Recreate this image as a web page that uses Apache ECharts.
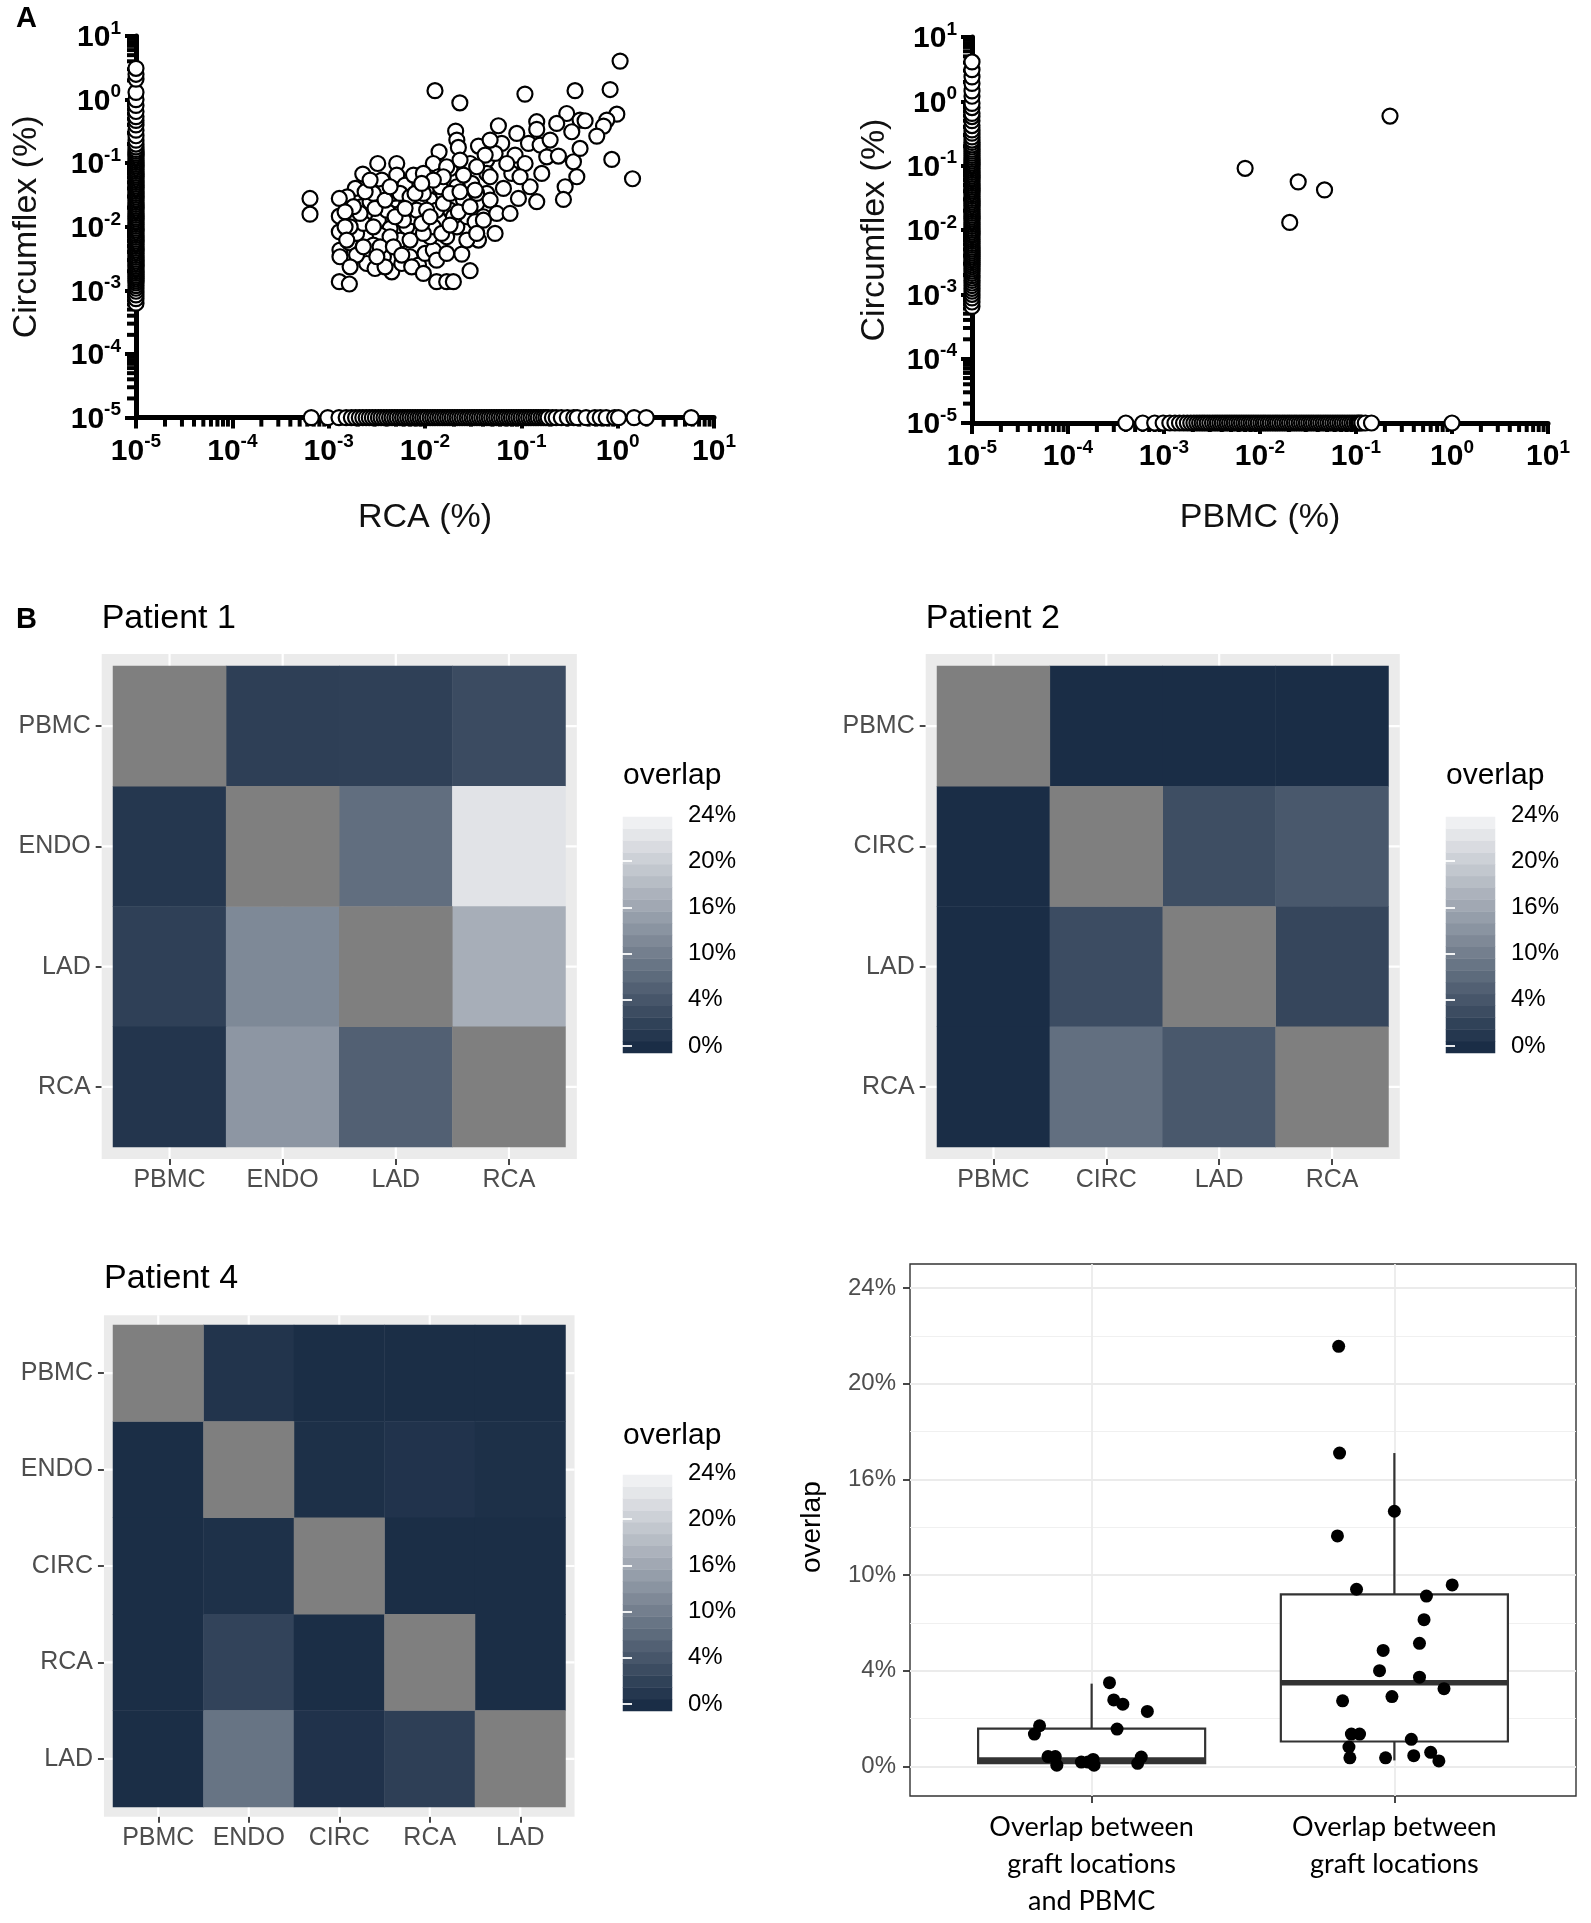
<!DOCTYPE html>
<html><head><meta charset="utf-8">
<script src="https://cdn.jsdelivr.net/npm/echarts@6/dist/echarts.min.js"></script>
<style>html,body{margin:0;padding:0;background:#fff}#c{width:1591px;height:1923px}</style>
</head><body><div id="c"></div><script>
// ---------------- DATA ----------------
// Panel A left: clones found only in Circumflex (RCA = 0, drawn at 1e-5)
const circOnlyVsRca = [6.3e-4,7.4e-4,8.5e-4,9.7e-4,1.08e-3,1.19e-3,1.31e-3,1.41e-3,1.52e-3,1.63e-3,1.74e-3,1.87e-3,1.98e-3,2.12e-3,2.26e-3,2.41e-3,2.56e-3,2.72e-3,2.9e-3,3.1e-3,3.32e-3,3.55e-3,3.8e-3,4.05e-3,4.32e-3,4.6e-3,4.92e-3,5.25e-3,5.6e-3,5.98e-3,6.4e-3,6.85e-3,7.3e-3,7.8e-3,8.35e-3,8.9e-3,9.5e-3,0.0102,0.0109,0.0116,0.0124,0.0133,0.0142,0.0152,0.0162,0.0173,0.0185,0.0198,0.0211,0.0226,0.0241,0.0258,0.0275,0.0294,0.0314,0.0336,0.0359,0.0383,0.041,0.0438,0.0468,0.05,0.0534,0.057,0.061,0.065,0.0695,0.0742,0.0793,0.0847,0.0905,0.0967,0.103,0.11,0.118,0.126,0.135,0.144,0.154,0.165,0.18,0.2,0.23,0.27,0.33,0.4,0.47,0.54,0.65,0.81,1.0,1.3,2.1,2.5,3.1];
// Panel A left: clones found only in RCA (Circumflex = 0, drawn at 1e-5)
const rcaOnly = [6.6e-4,9.8e-4,1.28e-3,1.52e-3,1.72e-3,1.9e-3,2.08e-3,2.26e-3,2.45e-3,2.64e-3,2.84e-3,3.05e-3,3.28e-3,3.5e-3,3.75e-3,4.0e-3,4.28e-3,4.55e-3,4.85e-3,5.15e-3,5.5e-3,5.85e-3,6.2e-3,6.6e-3,7.0e-3,7.45e-3,7.9e-3,8.4e-3,8.9e-3,9.45e-3,0.01,0.0106,0.0113,0.012,0.0127,0.0135,0.0143,0.0152,0.0161,0.0171,0.0181,0.0192,0.0204,0.0216,0.0229,0.0243,0.0258,0.0274,0.029,0.0308,0.0326,0.0346,0.0367,0.0389,0.0413,0.0438,0.0464,0.0492,0.0522,0.0554,0.0587,0.0623,0.066,0.07,0.0743,0.0788,0.0835,0.0886,0.094,0.0997,0.106,0.112,0.119,0.126,0.134,0.142,0.15,0.16,0.17,0.18,0.19,0.21,0.23,0.26,0.3,0.35,0.38,0.47,0.58,0.66,0.76,0.93,1.02,1.48,1.98,5.8];
// Panel A left: shared clones [RCA %, Circumflex %]
const sharedRcaCirc = [[0.0127,1.38],[0.023,0.89],[0.0208,0.32],[0.0214,0.231],[0.0222,0.177],[0.014,0.151],[0.0359,0.186],[0.0122,0.099],[0.0182,0.0828],[0.0294,0.099],[0.0438,0.112],[0.00323,0.099],[0.00509,0.099],[0.00226,0.0674],[0.00189,0.0401],[0.00156,0.0296],[0.00129,0.0279],[0.00064,0.0279],[0.00064,0.0158],[0.00129,0.0147],[0.00129,0.00835],[0.00131,0.0043],[0.00131,0.00338],[0.00129,0.00137],[0.00164,0.00126],[0.00164,0.00561],[0.00195,0.00787],[0.0022,0.0207],[0.00269,0.0247],[0.00356,0.0542],[0.00356,0.0335],[0.00269,0.0144],[0.00229,0.0113],[0.00328,0.0127],[0.00401,0.0183],[0.00509,0.0263],[0.00509,0.065],[0.00621,0.0453],[0.00759,0.065],[0.00962,0.069],[0.0104,0.0401],[0.0113,0.0263],[0.00889,0.0233],[0.00646,0.0233],[0.00551,0.0162],[0.00434,0.00942],[0.00342,0.0074],[0.00291,0.00515],[0.00248,0.00265],[0.00303,0.00221],[0.00452,0.00196],[0.00574,0.00265],[0.007,0.00338],[0.00855,0.0025],[0.01,0.00381],[0.0122,0.0043],[0.0113,0.00697],[0.0082,0.00887],[0.00646,0.01],[0.00551,0.00618],[0.00401,0.00485],[0.0037,0.00338],[0.00195,0.00359],[0.00167,0.00235],[0.0132,0.00137],[0.0168,0.00137],[0.0197,0.00137],[0.0241,0.00372],[0.0294,0.00204],[0.0168,0.00697],[0.0214,0.01],[0.0272,0.0144],[0.0344,0.00787],[0.0359,0.00618],[0.0144,0.0127],[0.0182,0.0183],[0.0251,0.0263],[0.0344,0.0233],[0.0404,0.0144],[0.0438,0.0335],[0.0306,0.0481],[0.0214,0.0426],[0.0155,0.0335],[0.0138,0.0612],[0.0168,0.0879],[0.0251,0.065],[0.0132,0.0183],[0.00962,0.0144],[0.00759,0.0144],[0.0047,0.0335],[0.00291,0.0335],[0.00239,0.0356],[0.0344,0.0335],[0.0438,0.069],[0.0231,0.112],[0.00551,0.0335],[0.007,0.0296],[0.0082,0.0183],[0.00597,0.0127],[0.0122,0.01],[0.0155,0.0233],[0.0197,0.0144],[0.0104,0.0183],[0.00434,0.00697],[0.00342,0.00485],[0.00229,0.00485],[0.00167,0.01],[0.00962,0.0335],[0.0144,0.0426],[0.00291,0.01],[0.007,0.00618],[0.0132,0.00299],[0.00962,0.00787],[0.0168,0.00381],[0.0272,0.00618],
[0.00303,0.0195],[0.00385,0.0263],[0.00489,0.0144],[0.00621,0.0195],[0.00788,0.0335],[0.00925,0.0113],[0.0113,0.0144],[0.0149,0.00787],[0.0182,0.01064],[0.0222,0.0172],[0.0294,0.0207],[0.0331,0.012],[0.0047,0.00485],[0.00574,0.00359],[0.00728,0.00235],[0.00962,0.00185],[0.00385,0.00235],[0.00212,0.0162],[0.00181,0.0207],[0.00148,0.0172],[0.00148,0.01],[0.00154,0.00618],[0.00316,0.00338],[0.0182,0.0335],[0.0231,0.0356],[0.0155,0.0612],[0.0122,0.0542],[0.00925,0.0481],[0.00434,0.0426],[0.00269,0.0542],
[1.06,4.03],[0.109,1.22],[0.361,1.38],[0.835,1.44],[0.98,0.59],[0.771,0.476],[0.713,0.383],[0.296,0.605],[0.407,0.476],[0.459,0.465],[0.233,0.422],[0.334,0.312],[0.1445,0.449],[0.1445,0.34],[0.0578,0.388],[0.0897,0.294],[0.1186,0.205],[0.1567,0.193],[0.0626,0.205],[0.0861,0.134],[0.0534,0.1425],[0.0421,0.134],[0.1836,0.126],[0.2427,0.1294],[0.3475,0.1054],[0.407,0.1706],[0.607,0.2667],[0.869,0.1146],[1.426,0.0569],[0.3767,0.0612],[0.285,0.0426],[0.2735,0.0269],[0.163,0.069],[0.1094,0.099],[0.0796,0.069],[0.1233,0.0426],[0.0933,0.0279],[0.1445,0.0248],[0.0652,0.0401],[0.0474,0.0612],[0.0344,0.0879],[0.0331,0.0378],[0.0474,0.0263],[0.0556,0.0162],[0.0764,0.0162],[0.0404,0.0127],[0.0534,0.00787],[0.0344,0.00787],[0.097,0.0612],[0.0706,0.099],[0.199,0.231],[0.0474,0.231]];
// Panel A right: clones only in Circumflex (PBMC = 0)
const circOnlyVsPbmc = [6.5e-4,7.6e-4,8.8e-4,1.0e-3,1.12e-3,1.24e-3,1.37e-3,1.5e-3,1.64e-3,1.79e-3,1.95e-3,2.12e-3,2.3e-3,2.48e-3,2.68e-3,2.88e-3,3.1e-3,3.33e-3,3.57e-3,3.83e-3,4.1e-3,4.4e-3,4.72e-3,5.05e-3,5.4e-3,5.8e-3,6.2e-3,6.65e-3,7.1e-3,7.6e-3,8.15e-3,8.7e-3,9.3e-3,9.95e-3,0.0106,0.0114,0.0122,0.013,0.0139,0.0149,0.0159,0.017,0.0182,0.0195,0.0208,0.0222,0.0238,0.0254,0.0272,0.029,0.031,0.0332,0.0355,0.0379,0.0405,0.0433,0.0463,0.0495,0.0529,0.0566,0.0605,0.0646,0.069,0.0738,0.0789,0.0843,0.0901,0.0963,0.103,0.11,0.118,0.126,0.135,0.145,0.156,0.168,0.18,0.195,0.21,0.23,0.25,0.28,0.32,0.36,0.42,0.5,0.58,0.65,0.8,0.93,1.2,1.45,1.9,2.4,3.1,4.1];
// Panel A right: clones only in PBMC (Circumflex = 0)
const pbmcOnly = [4.0e-4,6.0e-4,8.0e-4,9.8e-4,1.15e-3,1.3e-3,1.45e-3,1.6e-3,1.75e-3,1.9e-3,2.05e-3,2.2e-3,2.35e-3,2.5e-3,2.65e-3,2.82e-3,3.0e-3,3.2e-3,3.4e-3,3.6e-3,3.82e-3,4.05e-3,4.3e-3,4.55e-3,4.82e-3,5.1e-3,5.4e-3,5.72e-3,6.06e-3,6.42e-3,6.8e-3,7.2e-3,7.63e-3,8.08e-3,8.56e-3,9.07e-3,9.6e-3,0.0102,0.0108,0.0114,0.0121,0.0128,0.0136,0.0144,0.0152,0.0161,0.0171,0.0181,0.0192,0.0203,0.0215,0.0228,0.0241,0.0256,0.0271,0.0287,0.0304,0.0322,0.0341,0.0361,0.0383,0.0405,0.0429,0.0455,0.0482,0.051,0.054,0.0573,0.0607,0.0643,0.0681,0.0721,0.0764,0.081,0.0858,0.0909,0.0963,0.102,0.106,0.11,0.115,0.125,0.145,1.0];
// Panel A right: shared clones [PBMC %, Circumflex %]
const sharedPbmcCirc = [[0.007,0.091],[0.025,0.056],[0.047,0.042],[0.0204,0.0131],[0.226,0.59]];

// Panel B heatmaps: overlap (%) rows x columns, null = same sample
const p1Sites = ['PBMC','ENDO','LAD','RCA'];
const p1Overlap = [
  [null, 1.8, 1.9, 3.0],
  [1.0, null, 7.6, 22.0],
  [1.9, 11.6, null, 16.8],
  [0.8, 13.6, 5.6, null]];
const p2Sites = ['PBMC','CIRC','LAD','RCA'];
const p2Overlap = [
  [null, 0.0, 0.0, 0.0],
  [0.0, null, 3.3, 4.4],
  [0.0, 3.1, null, 2.5],
  [0.0, 7.8, 4.4, null]];
const p4Sites = ['PBMC','ENDO','CIRC','RCA','LAD'];
const p4Overlap = [
  [null, 0.7, 0.05, 0.05, 0.05],
  [0.05, null, 0.27, 0.63, 0.27],
  [0.05, 0.36, null, 0.05, 0.05],
  [0.05, 2.2, 0.05, null, 0.05],
  [0.05, 8.5, 0.54, 1.8, null]];
const overlapTickLabels = ['0%','4%','10%','16%','20%','24%'];
const overlapTickValues = [0, 4, 10, 16, 20, 24];

// Boxplot
const boxGroups = ['Overlap between\ngraft locations\nand PBMC', 'Overlap between\ngraft locations'];
const boxMin = [0.0, 0.25];
const boxQ1 = [0.14, 1.04];
const boxMedian = [0.27, 3.5];
const boxQ3 = [1.58, 8.79];
const boxMax = [3.46, 17.1];
const pbmcPairsX = [0.811,0.828,0.856,0.88,0.885,0.966,0.988,1.005,1.008,1.059,1.073,1.103,1.084,1.184,1.152,1.164];
const pbmcPairsY = [1.35,1.70,0.41,0.41,0.05,0.18,0.18,0.29,0.05,3.50,2.78,2.60,1.56,2.30,0.13,0.39];
const graftPairsX = [1.816,1.819,2.0,1.812,1.875,2.191,2.106,2.098,1.963,2.083,1.951,2.083,2.164,1.992,1.829,1.858,1.885,2.056,1.85,1.853,1.971,2.064,2.12,2.147];
const graftPairsY = [21.56,17.1,14.0,12.45,9.11,9.38,8.68,7.20,5.27,5.72,4.0,3.73,3.25,2.92,2.74,1.35,1.35,1.13,0.81,0.36,0.36,0.45,0.59,0.23];

// ---------------- HELPERS ----------------
const FONT = '"Liberation Sans", Arial, Helvetica, sans-serif';
const NARROW = '"Liberation Sans Narrow", "Liberation Sans", Arial, sans-serif';
const COLOR_MAX = 4.82; // colour scale top, in axis steps
function toStep(p){
  for (let i = 1; i < overlapTickValues.length; i++) {
    if (p <= overlapTickValues[i]) return (i-1) + (p - overlapTickValues[i-1])/(overlapTickValues[i]-overlapTickValues[i-1]);
  }
  return overlapTickValues.length - 1;
}
const grids = [], xAxes = [], yAxes = [], series = [], titles = [], colourSeries = [];
const addGrid = g => (grids.push(g), grids.length-1);
const addX = a => (xAxes.push(a), xAxes.length-1);
const addY = a => (yAxes.push(a), yAxes.length-1);

const minorMult = [2,3,4,5,6,7,8,9];
const minorTicks = [];
for (let d = -5; d < 1; d++) minorMult.forEach(m => minorTicks.push(m * Math.pow(10, d)));

function logLabel(v){ const e = Math.round(Math.log10(v)); return '{b|10}{s|' + e + '}'; }
const logRich = {
  b: {fontSize: 30, fontWeight: 'bold', fontFamily: NARROW, color: '#000', verticalAlign: 'bottom', lineHeight: 34},
  s: {fontSize: 19, fontWeight: 'bold', fontFamily: NARROW, color: '#000', verticalAlign: 'top', lineHeight: 19}
};

function scatterPanel(o){
  const gi = addGrid({left: o.left, top: o.top, width: o.width, height: o.height});
  const common = {
    gridIndex: gi, type: 'log', logBase: 10, min: 1e-5, max: 10,
    nameLocation: 'middle',
    nameTextStyle: {fontSize: 34, fontFamily: FONT, color: '#111'},
    axisLine: {show: true, onZero: false, lineStyle: {color: '#000', width: 5}},
    axisTick: {show: true, length: 11, lineStyle: {color: '#000', width: 4}},
    splitLine: {show: false}
  };
  const xi = addX(Object.assign({}, common, {name: o.xName, nameGap: o.xGap,
    axisLabel: {formatter: logLabel, rich: logRich, margin: 15}}));
  const yi = addY(Object.assign({}, common, {name: 'Circumflex (%)', nameGap: o.yGap,
    axisLabel: {formatter: logLabel, rich: logRich, margin: 15}}));
  series.push({type: 'custom', xAxisIndex: xi, yAxisIndex: yi, silent: true, z: 1,
    data: minorTicks.map(v => [v, 1e-5]),
    renderItem: (p, api) => { const c = api.coord([api.value(0), 1e-5]);
      return {type: 'line', shape: {x1: c[0], y1: c[1], x2: c[0], y2: c[1] + 9}, style: {stroke: '#000', lineWidth: 4}}; }});
  series.push({type: 'custom', xAxisIndex: xi, yAxisIndex: yi, silent: true, z: 1,
    data: minorTicks.map(v => [1e-5, v]),
    renderItem: (p, api) => { const c = api.coord([1e-5, api.value(1)]);
      return {type: 'line', shape: {x1: c[0], y1: c[1], x2: c[0] - 9, y2: c[1]}, style: {stroke: '#000', lineWidth: 4}}; }});
  const pts = [].concat(o.colY.map(v => [1e-5, v]), o.rowX.map(v => [v, 1e-5]), o.shared);
  series.push({type: 'scatter', xAxisIndex: xi, yAxisIndex: yi, data: pts, symbol: 'circle', symbolSize: 15,
    clip: false, silent: true, z: 3, itemStyle: {color: '#fff', borderColor: '#000', borderWidth: 2.2, opacity: 1}});
}

function heatPanel(o){
  const n = o.sites.length, cw = o.width / n, rh = o.height / n;
  const mx = 0.1 * cw, my = 0.1 * rh;
  const bg = addGrid({left: o.left - mx, top: o.top - my, width: o.width + 2*mx, height: o.height + 2*my,
    show: true, backgroundColor: '#ebebeb', borderWidth: 0});
  const bx = addX({gridIndex: bg, type: 'value', min: -0.6, max: n - 0.4, show: false});
  const by = addY({gridIndex: bg, type: 'value', min: -0.6, max: n - 0.4, inverse: true, show: false});
  series.push({type: 'custom', xAxisIndex: bx, yAxisIndex: by, silent: true, z: 1,
    data: o.sites.map((s, i) => [i, i]),
    renderItem: (p, api) => { const k = api.value(0);
      const a = api.coord([k, -0.6]), b = api.coord([k, n - 0.4]), c = api.coord([-0.6, k]), d = api.coord([n - 0.4, k]);
      return {type: 'group', children: [
        {type: 'line', shape: {x1: a[0], y1: a[1], x2: b[0], y2: b[1]}, style: {stroke: '#fff', lineWidth: 2.2}},
        {type: 'line', shape: {x1: c[0], y1: c[1], x2: d[0], y2: d[1]}, style: {stroke: '#fff', lineWidth: 2.2}}]}; }});
  const tg = addGrid({left: o.left, top: o.top, width: o.width, height: o.height});
  const catAxis = {
    gridIndex: tg, type: 'category', data: o.sites,
    axisLine: {show: false},
    axisTick: {show: true, alignWithLabel: true, length: 6, lineStyle: {color: '#333', width: 1.8}},
    axisLabel: {color: '#4d4d4d', fontSize: 25, fontFamily: FONT, interval: 0},
    splitLine: {show: false}
  };
  const tx = addX(Object.assign({}, catAxis, {offset: my, axisLabel: Object.assign({}, catAxis.axisLabel, {margin: 9})}));
  const ty = addY(Object.assign({}, catAxis, {offset: mx, inverse: true, axisLabel: Object.assign({}, catAxis.axisLabel, {margin: 11})}));
  const vals = [], diag = [];
  o.matrix.forEach((row, r) => row.forEach((v, c) => {
    if (v === null) diag.push([c, r, 0]); else vals.push([c, r, toStep(v)]);
  }));
  colourSeries.push(series.length);
  series.push({type: 'heatmap', xAxisIndex: tx, yAxisIndex: ty, data: vals, silent: true, z: 2, emphasis: {disabled: true}});
  series.push({type: 'heatmap', xAxisIndex: tx, yAxisIndex: ty, data: diag, silent: true, z: 2,
    itemStyle: {color: '#7f7f7f'}, emphasis: {disabled: true}});
  titles.push({text: o.title, left: o.left - mx, top: o.titleTop, padding: 0,
    textStyle: {fontSize: 34, fontWeight: 'normal', fontFamily: FONT, color: '#000'}});
  const L = o.legend;
  titles.push({text: 'overlap', left: L.left, top: L.titleTop, padding: 0,
    textStyle: {fontSize: 30, fontWeight: 'normal', fontFamily: FONT, color: '#000'}});
  const nb = 20;
  const bins = [];
  for (let i = 0; i < nb; i++) bins.push(i * COLOR_MAX / (nb - 1));
  const lg = addGrid({left: L.left, top: L.barTop, width: 49, height: L.barH});
  const lx = addX({gridIndex: lg, type: 'category', data: ['bar'], show: false});
  const ly = addY({gridIndex: lg, type: 'category', data: bins.map((b, i) => i), show: false});
  colourSeries.push(series.length);
  series.push({type: 'heatmap', xAxisIndex: lx, yAxisIndex: ly, data: bins.map((t, i) => [0, i, t]), silent: true, z: 2, emphasis: {disabled: true}});
  const lg2 = addGrid({left: L.left, top: L.lblTop, width: 49, height: L.lblH});
  addX({gridIndex: lg2, type: 'value', min: 0, max: 1, show: false});
  const tickStyle = {show: true, inside: true, length: 9, lineStyle: {color: '#fff', width: 1.8}};
  addY({gridIndex: lg2, type: 'value', position: 'right', min: 0, max: 5, interval: 1, z: 10,
    axisLine: {show: false}, axisTick: tickStyle, splitLine: {show: false},
    axisLabel: {formatter: v => overlapTickLabels[Math.round(v)], fontSize: 24, fontFamily: FONT, color: '#000', margin: 16}});
  addY({gridIndex: lg2, type: 'value', position: 'left', min: 0, max: 5, interval: 1, z: 10,
    axisLine: {show: false}, axisTick: tickStyle, splitLine: {show: false}, axisLabel: {show: false}});
}

// ---------------- BUILD ----------------
scatterPanel({left: 136, top: 36, width: 578, height: 381.6, xName: 'RCA (%)', xGap: 83, yGap: 92,
  colY: circOnlyVsRca, rowX: rcaOnly, shared: sharedRcaCirc});
scatterPanel({left: 972, top: 37, width: 576, height: 386, xName: 'PBMC (%)', xGap: 78, yGap: 80,
  colY: circOnlyVsPbmc, rowX: pbmcOnly, shared: sharedPbmcCirc});

heatPanel({sites: p1Sites, matrix: p1Overlap, left: 113, top: 666, width: 452.5, height: 481, title: 'Patient 1', titleTop: 602,
  legend: {left: 623, titleTop: 761, barTop: 817, barH: 236, lblTop: 815, lblH: 231}});
heatPanel({sites: p2Sites, matrix: p2Overlap, left: 937, top: 666, width: 451.5, height: 481, title: 'Patient 2', titleTop: 602,
  legend: {left: 1446, titleTop: 761, barTop: 817, barH: 236, lblTop: 815, lblH: 231}});
heatPanel({sites: p4Sites, matrix: p4Overlap, left: 113, top: 1325, width: 452.5, height: 482, title: 'Patient 4', titleTop: 1262,
  legend: {left: 623, titleTop: 1421, barTop: 1475, barH: 236, lblTop: 1473, lblH: 231}});

// Boxplot
const boxCats = ['', '', '', boxGroups[0], '', '', '', '', boxGroups[1], '', '', ''];
const showCat = (i, v) => v !== '';
const bbg = addGrid({left: 910, top: 1264, width: 666, height: 532, show: true, borderColor: '#333', borderWidth: 1.4, backgroundColor: 'transparent'});
addX({gridIndex: bbg, type: 'category', data: boxCats, boundaryGap: false,
  axisLine: {show: false},
  axisTick: {show: true, interval: showCat, length: 7, lineStyle: {color: '#333', width: 1.8}},
  axisLabel: {interval: showCat, fontFamily: 'Lato, "Open Sans", sans-serif', fontSize: 27, lineHeight: 37, color: '#000', margin: 13},
  splitLine: {show: true, interval: showCat, lineStyle: {color: '#ebebeb', width: 1.8}}});
addY({gridIndex: bbg, type: 'value', min: 0, max: 1, show: false});
const bpg = addGrid({left: 910, top: 1288, width: 666, height: 478.4});
const bpx = addX({gridIndex: bpg, type: 'value', min: 0.4, max: 2.6, show: false});
const bpy = addY({gridIndex: bpg, type: 'value', min: 0, max: 5, interval: 1,
  name: 'overlap', nameLocation: 'middle', nameGap: 84,
  nameTextStyle: {fontSize: 28, fontFamily: FONT, color: '#000'},
  axisLine: {show: false},
  axisTick: {show: true, length: 7, lineStyle: {color: '#333', width: 1.8}},
  axisLabel: {formatter: v => overlapTickLabels[Math.round(v)], fontSize: 24, fontFamily: FONT, color: '#4d4d4d', margin: 14},
  splitLine: {show: true, lineStyle: {color: '#ebebeb', width: 1.8}},
  minorTick: {show: false, splitNumber: 2},
  minorSplitLine: {show: true, lineStyle: {color: '#f0f0f0', width: 1}}});
series.push({type: 'custom', xAxisIndex: bpx, yAxisIndex: bpy, silent: true, z: 3,
  data: boxGroups.map((g, i) => [i + 1, toStep(boxMin[i]), toStep(boxQ1[i]), toStep(boxMedian[i]), toStep(boxQ3[i]), toStep(boxMax[i])]),
  renderItem: (p, api) => {
    const x = api.value(0), w = 0.375;
    const pMin = api.coord([x, api.value(1)]), pQ1 = api.coord([x, api.value(2)]), pMed = api.coord([x, api.value(3)]),
          pQ3 = api.coord([x, api.value(4)]), pMax = api.coord([x, api.value(5)]);
    const l = api.coord([x - w, 0])[0], r = api.coord([x + w, 0])[0];
    const st = {stroke: '#333', lineWidth: 2.2};
    return {type: 'group', children: [
      {type: 'line', shape: {x1: pMin[0], y1: pMin[1], x2: pQ1[0], y2: pQ1[1]}, style: st},
      {type: 'line', shape: {x1: pQ3[0], y1: pQ3[1], x2: pMax[0], y2: pMax[1]}, style: st},
      {type: 'rect', shape: {x: l, y: pQ3[1], width: r - l, height: pQ1[1] - pQ3[1]}, style: {fill: '#fff', stroke: '#333', lineWidth: 2.2}},
      {type: 'line', shape: {x1: l, y1: pMed[1], x2: r, y2: pMed[1]}, style: {stroke: '#333', lineWidth: 5.5}}]};
  }});
series.push({type: 'scatter', xAxisIndex: bpx, yAxisIndex: bpy, silent: true, z: 4, clip: false, symbolSize: 13,
  itemStyle: {color: '#000', opacity: 1}, data: pbmcPairsX.map((x, i) => [x, toStep(pbmcPairsY[i])])});
series.push({type: 'scatter', xAxisIndex: bpx, yAxisIndex: bpy, silent: true, z: 4, clip: false, symbolSize: 13,
  itemStyle: {color: '#000', opacity: 1}, data: graftPairsX.map((x, i) => [x, toStep(graftPairsY[i])])});

titles.push({text: 'A', left: 16, top: 4, padding: 0, textStyle: {fontSize: 29, fontWeight: 'bold', fontFamily: FONT, color: '#000'}});
titles.push({text: 'B', left: 16, top: 605, padding: 0, textStyle: {fontSize: 29, fontWeight: 'bold', fontFamily: FONT, color: '#000'}});

const chart = echarts.init(document.getElementById('c'), null, {renderer: 'canvas'});
chart.setOption({
  animation: false,
  backgroundColor: '#fff',
  title: titles,
  grid: grids,
  xAxis: xAxes,
  yAxis: yAxes,
  visualMap: [{type: 'continuous', min: 0, max: COLOR_MAX, show: false, dimension: 2, seriesIndex: colourSeries,
    inRange: {color: ['#1a2d46', '#eff0f2']}}],
  series: series
});
</script></body></html>
